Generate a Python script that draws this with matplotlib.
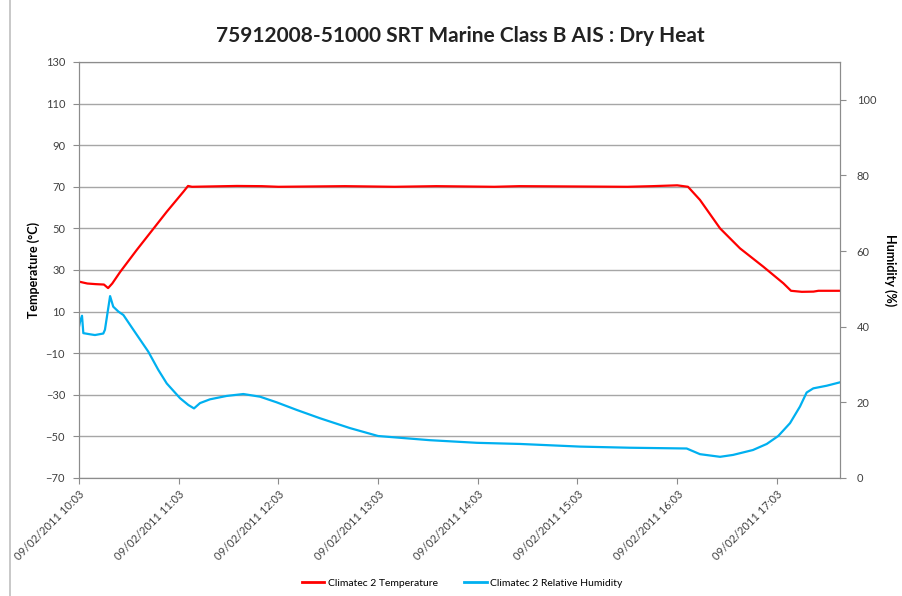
import matplotlib.pyplot as plt
from matplotlib.lines import Line2D

plt.rcParams['font.family'] = ['Lato', 'DejaVu Sans']

# minutes after 09/02/2011 10:03
temp_t = [0, 5, 10, 15, 17.5, 20, 24.7, 34.7, 52.8, 62.8, 65.6, 68, 95, 110, 120, 160,
          190, 215, 250, 265, 330, 345, 360, 366.5, 373.7, 385.8, 397.8, 411.8,
          423.9, 428.5, 435, 442, 445, 458]
temp_v = [24.4, 23.5, 23.2, 23.0, 21.3, 23.5, 29.0, 39.6, 58.0, 67.6, 70.4, 70.0, 70.4,
          70.3, 70.0, 70.3, 70.0, 70.3, 70.0, 70.3, 70.0, 70.3, 70.7, 70.0, 63.7,
          50.0, 40.4, 31.6, 23.6, 20.0, 19.5, 19.6, 20.0, 20.0]

hum_t = [0, 0.6, 1.8, 2.6, 6.6, 9.6, 14.6, 15.6, 18.7, 20.6, 23.7, 26.7, 32.7, 41.7,
         47.7, 52.8, 60.8, 65.8, 69.2, 72.8, 78.8, 88.9, 98.9, 108.9, 119.0, 131.0,
         145.0, 163.0, 180.0, 211.0, 239.5, 265.4, 301.5, 331.6, 365.7, 373.7, 385.8,
         393.6, 405.6, 413.9, 420.8, 427.9, 433.9, 437.9, 441.9, 450.0, 458.0]
hum_v = [40.0, 41.3, 42.9, 38.3, 38.0, 37.8, 38.2, 39.2, 48.1, 45.3, 44.0, 43.1, 39.2,
         33.4, 28.6, 25.0, 21.1, 19.3, 18.4, 19.8, 20.8, 21.7, 22.2, 21.5, 20.0, 18.0,
         15.8, 13.2, 11.1, 10.0, 9.3, 9.0, 8.3, 8.0, 7.8, 6.3, 5.6, 6.1, 7.4, 9.0,
         11.1, 14.5, 18.9, 22.6, 23.7, 24.4, 25.3]

xtick_pos = [0, 60, 120, 180, 240, 300, 360, 420]
xtick_labels = ['09/02/2011 10:03', '09/02/2011 11:03', '09/02/2011 12:03',
                '09/02/2011 13:03', '09/02/2011 14:03', '09/02/2011 15:03',
                '09/02/2011 16:03', '09/02/2011 17:03']

grey = '#8c8c8c'
txt = '#404040'

fig = plt.figure(figsize=(9.02, 5.96), dpi=100)
ax = fig.add_axes([0.0876, 0.198, 0.9313 - 0.0876, 0.896 - 0.198])
ax2 = ax.twinx()

ax.plot(temp_t, temp_v, color='#ff0000', lw=1.6)
ax2.plot(hum_t, hum_v, color='#00b0f0', lw=1.6)

ax.set_xlim(0, 458)
ax.set_ylim(-70, 130)
ax.set_yticks(range(-70, 131, 20))
ax2.set_ylim(0, 110)
ax2.set_yticks(range(0, 101, 20))

ax.set_xticks(xtick_pos)
ax.set_xticklabels(xtick_labels, rotation=45, ha='right', rotation_mode='anchor')
ax.grid(True, axis='y', color='#a6a6a6', lw=1)
ax.set_axisbelow(True)

for a in (ax, ax2):
    for s in a.spines.values():
        s.set_color(grey)
    a.tick_params(colors=grey, labelcolor=txt, labelsize=8, length=4)
ax.tick_params(axis='y', pad=6)
ax.tick_params(axis='x', pad=4)
ax2.tick_params(axis='y', pad=8)

ax.set_ylabel('Temperature (°C)', fontsize=9, fontweight='bold')
ax.yaxis.set_label_coords(-0.051, 0.5)
ax2.set_ylabel('Humidity (%)', fontsize=9, fontweight='bold', rotation=-90,
               va='center')
ax2.yaxis.set_label_coords(1.066, 0.5)

fig.text(0.51, 0.94, '75912008-51000 SRT Marine Class B AIS : Dry Heat',
         ha='center', va='center', fontsize=15, fontweight='bold', color='#222222')

handles = [Line2D([], [], color='#ff0000', lw=2), Line2D([], [], color='#00b0f0', lw=2)]
fig.legend(handles, ['Climatec 2 Temperature', 'Climatec 2 Relative Humidity'],
           loc='center', bbox_to_anchor=(0.512, 0.022), ncol=2, frameon=False,
           fontsize=7.5, handlelength=2.2, columnspacing=2.5, handletextpad=0.3)

fig.add_artist(Line2D([0.011, 0.011], [0, 1], color='#bfbfbf', lw=1.2,
                      transform=fig.transFigure))

fig.savefig('out.png', dpi=100)
